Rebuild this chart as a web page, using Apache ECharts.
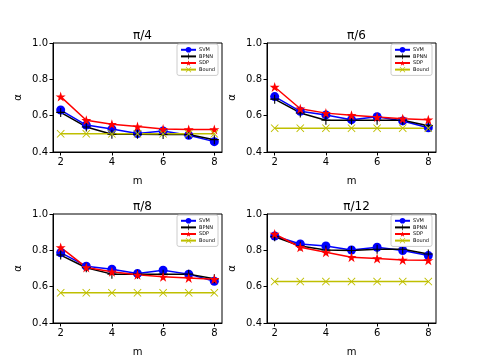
<!DOCTYPE html>
<html>
<head>
<meta charset="utf-8">
<script src="https://cdn.jsdelivr.net/npm/echarts@6/dist/echarts.min.js"></script>
<style>html,body{margin:0;padding:0;background:#fff}#c{width:484px;height:363px}</style>
</head>
<body>
<div id="c"></div>
<script>
const mValues = [2, 3, 4, 5, 6, 7, 8];
const xTicks = [2, 4, 6, 8];
const panelTitles = ['π/4', 'π/6', 'π/8', 'π/12'];
const seriesNames = ['SVM', 'BPNN', 'SDP', 'Bound'];

// π/4
const svm1 = [0.631, 0.548, 0.526, 0.502, 0.516, 0.492, 0.457];
const bpnn1 = [0.618, 0.538, 0.498, 0.498, 0.496, 0.496, 0.468];
const sdp1 = [0.705, 0.575, 0.553, 0.540, 0.526, 0.524, 0.524];
const bound1 = [0.5, 0.5, 0.5, 0.5, 0.5, 0.5, 0.5];
// π/6
const svm2 = [0.705, 0.624, 0.604, 0.578, 0.594, 0.571, 0.533];
const bpnn2 = [0.691, 0.615, 0.575, 0.575, 0.575, 0.575, 0.545];
const sdp2 = [0.758, 0.638, 0.614, 0.602, 0.592, 0.583, 0.578];
const bound2 = [0.531, 0.531, 0.531, 0.531, 0.531, 0.531, 0.531];
// π/8
const svm3 = [0.787, 0.713, 0.696, 0.672, 0.691, 0.669, 0.630];
const bpnn3 = [0.774, 0.704, 0.669, 0.669, 0.669, 0.669, 0.643];
const sdp3 = [0.816, 0.706, 0.682, 0.665, 0.654, 0.648, 0.641];
const bound3 = [0.566, 0.566, 0.566, 0.566, 0.566, 0.566, 0.566];
// π/12
const svm4 = [0.879, 0.835, 0.824, 0.802, 0.817, 0.799, 0.771];
const bpnn4 = [0.875, 0.824, 0.802, 0.799, 0.806, 0.806, 0.780];
const sdp4 = [0.890, 0.817, 0.789, 0.762, 0.755, 0.747, 0.745];
const bound4 = [0.628, 0.628, 0.628, 0.628, 0.628, 0.628, 0.628];

const panels = [
  [svm1, bpnn1, sdp1, bound1],
  [svm2, bpnn2, sdp2, bound2],
  [svm3, bpnn3, sdp3, bound3],
  [svm4, bpnn4, sdp4, bound4]
];

const font = 'DejaVu Sans';
const colors = ['#0000ff', '#000000', '#ff0000', '#bfbf00'];
const STAR = 'path://M50,0 L61.2,34.5 L97.6,34.5 L68.2,55.9 L79.4,90.5 L50,69.1 L20.6,90.5 L31.8,55.9 L2.4,34.5 L38.8,34.5 Z';
const PLUS = 'path://M44,0 H56 V44 H100 V56 H56 V100 H44 V56 H0 V44 H44 Z';
const XMARK = 'path://M8,0 L50,42 L92,0 L100,8 L58,50 L100,92 L92,100 L50,58 L8,100 L0,92 L42,50 L0,8 Z';
const symbols = ['circle', PLUS, STAR, XMARK];
const symbolSizes = [9, 9, 10, 8];

const gridPos = [
  {left: 53, top: 43, width: 169, height: 109},
  {left: 267, top: 43, width: 169, height: 109},
  {left: 53, top: 214, width: 169, height: 109},
  {left: 267, top: 214, width: 169, height: 109}
];

const grid = [], xAxis = [], yAxis = [], series = [], title = [], legend = [];
gridPos.forEach((g, i) => {
  grid.push(Object.assign({show: true, borderColor: '#000', borderWidth: 1, backgroundColor: '#fff', containLabel: false}, g));
  title.push({
    text: panelTitles[i],
    left: g.left + g.width / 2, top: g.top - 18,
    textAlign: 'center',
    textStyle: {fontFamily: font, fontSize: 12, fontWeight: 'normal', color: '#000'}
  });
  xAxis.push({
    type: 'value', gridIndex: i, min: 1.7, max: 8.3,
    name: 'm', nameLocation: 'middle', nameGap: 24,
    nameTextStyle: {fontFamily: font, fontSize: 10, color: '#000'},
    axisLine: {show: true, onZero: false, lineStyle: {color: '#000', width: 1}},
    axisTick: {show: true, customValues: xTicks, length: 3.5, lineStyle: {color: '#000'}},
    axisLabel: {customValues: xTicks, fontFamily: font, fontSize: 10, color: '#000', margin: 5},
    splitLine: {show: false}
  });
  yAxis.push({
    type: 'value', gridIndex: i, min: 0.4, max: 1.0, interval: 0.2,
    name: 'α', nameLocation: 'middle', nameGap: 30,
    nameTextStyle: {fontFamily: font, fontSize: 10, color: '#000'},
    axisLine: {show: true, onZero: false, lineStyle: {color: '#000', width: 1}},
    axisTick: {show: true, length: 3.5, lineStyle: {color: '#000'}},
    axisLabel: {fontFamily: font, fontSize: 10, color: '#000', margin: 5, formatter: v => v.toFixed(1)},
    splitLine: {show: false}
  });
  panels[i].forEach((vals, k) => {
    series.push({
      name: seriesNames[k], type: 'line',
      xAxisIndex: i, yAxisIndex: i,
      data: mValues.map((m, j) => [m, vals[j]]),
      symbol: symbols[k], symbolSize: symbolSizes[k],
      showAllSymbol: true,
      lineStyle: {color: colors[k], width: 1.5},
      itemStyle: {color: colors[k]},
      emphasis: {disabled: true},
      animation: false
    });
  });
  legend.push({
    orient: 'vertical',
    left: g.left + g.width - 45, top: g.top + 1,
    data: seriesNames,
    itemWidth: 15, itemHeight: 7, itemGap: 1,
    padding: [3, 3, 3, 3],
    borderColor: '#ccc', borderWidth: 1, borderRadius: 2,
    backgroundColor: '#fff',
    textStyle: {fontFamily: font, fontSize: 5, color: '#000', padding: [0, 0, 0, -2]},
    selectedMode: false
  });
});

const chart = echarts.init(document.getElementById('c'), null, {renderer: 'canvas'});
chart.setOption({animation: false, title, grid, xAxis, yAxis, series, legend});
</script>
</body>
</html>
